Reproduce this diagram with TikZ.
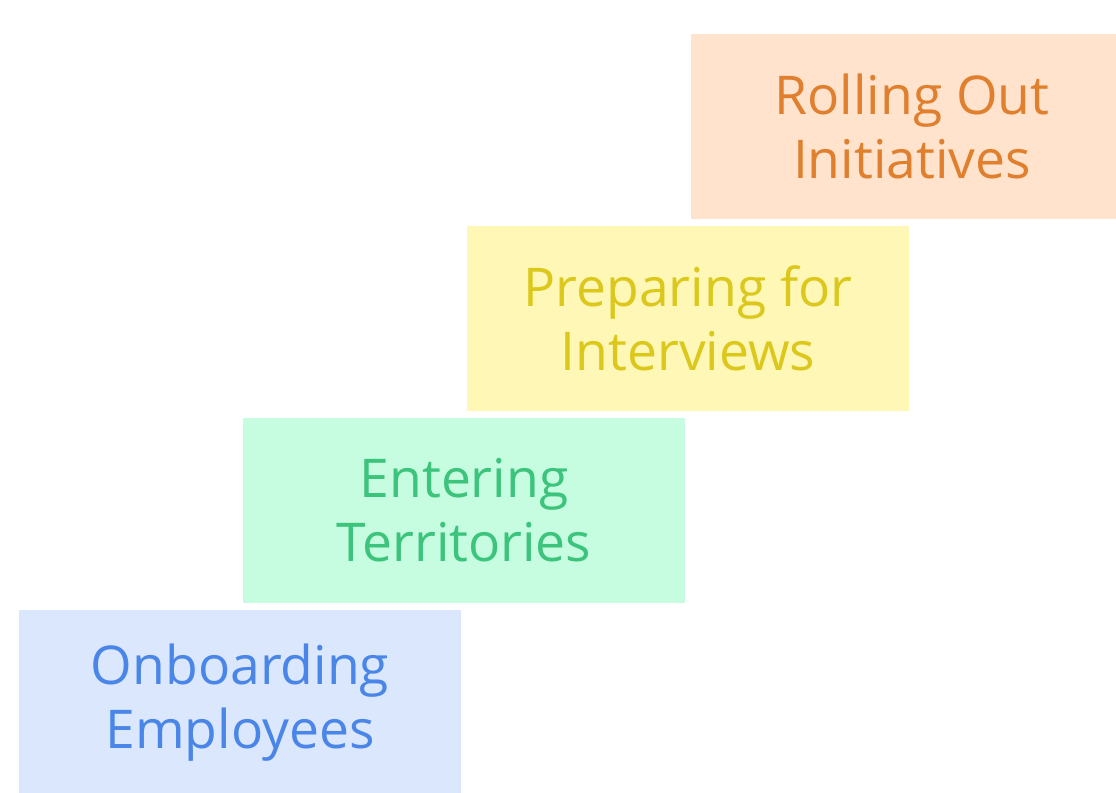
\documentclass[tikz,border=0pt]{standalone}
\usepackage{fontspec}
\setmainfont{Open Sans}
\usepackage{tikz}
\usetikzlibrary{positioning}

\definecolor{blueFill}{HTML}{DBE7FD}
\definecolor{blueText}{HTML}{4A86E8}
\definecolor{greenFill}{HTML}{C6FCE0}
\definecolor{greenText}{HTML}{3CC47C}
\definecolor{yellowFill}{HTML}{FEF7B5}
\definecolor{yellowText}{HTML}{DCC81C}
\definecolor{orangeFill}{HTML}{FFE3CC}
\definecolor{orangeText}{HTML}{E07F2E}

\begin{document}
\begin{tikzpicture}[
  x=0.025cm, y=-0.025cm,
  stair/.style={rectangle, inner sep=0pt, minimum width=11.05cm, minimum height=4.625cm,
    align=center, font=\fontsize{38}{45.5}\selectfont}
]
\useasboundingbox (0,0) rectangle (1116,792);
\clip (0,0) rectangle (1116,792);
% staircase of stages, bottom left to top right
\node[stair, fill=blueFill, text=blueText] (onboard) at (240,702.5) {Onboarding\\Employees};
\node[stair, fill=greenFill, text=greenText] (enter) at (464,510.5) {Entering\\Territories};
\node[stair, fill=yellowFill, text=yellowText] (prep) at (688,318.5) {Preparing for\\Interviews};
\node[stair, fill=orangeFill, text=orangeText] (rollout) at (912,126.5) {Rolling Out\\Initiatives};
\end{tikzpicture}
\end{document}
